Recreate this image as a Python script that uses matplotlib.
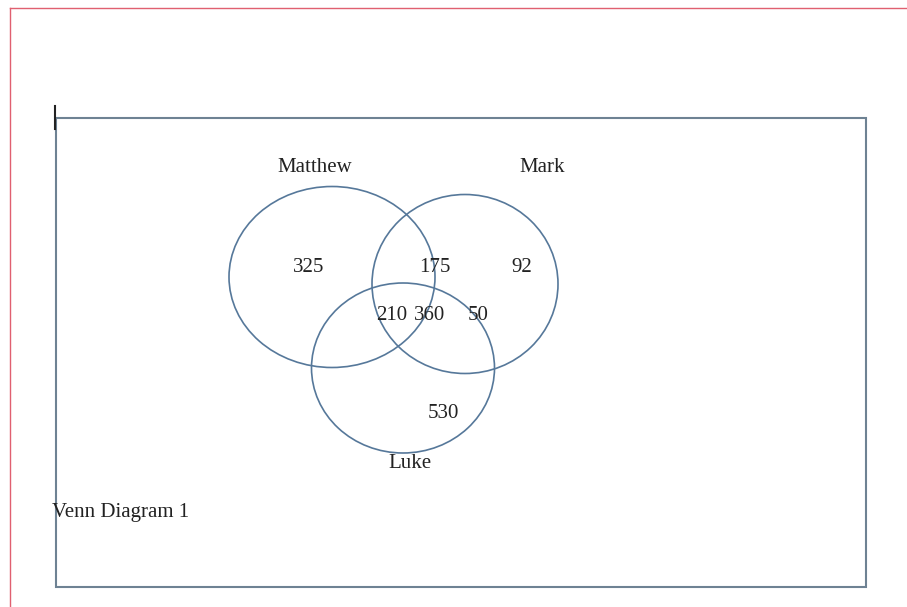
import matplotlib.pyplot as plt
from matplotlib.patches import Ellipse, Rectangle

# data
set_names = ['Matthew', 'Mark', 'Luke']
region_labels = ['Matthew only', 'Matthew & Mark', 'Mark only',
                 'Matthew & Luke', 'all three', 'Mark & Luke', 'Luke only']
region_counts = [325, 175, 92, 210, 360, 50, 530]
caption = 'Venn Diagram 1'

# layout (canvas pixels, y downwards)
circle_centers = [(332, 277), (465, 284), (403, 368)]
circle_sizes = [(206, 181), (186, 179), (183, 170)]
name_pos = [(315, 168), (542, 168), (410, 464)]
count_pos = [(309, 267), (435, 267), (522, 267),
             (392, 315), (430, 315), (478, 315), (443, 414)]

edge_col = '#56789a'
box_col = '#6e8293'
font = ['Liberation Serif', 'DejaVu Serif']
fs = 15

fig = plt.figure(figsize=(9.07, 6.07), dpi=100)
ax = fig.add_axes([0, 0, 1, 1])
ax.set_xlim(0, 907)
ax.set_ylim(607, 0)
ax.axis('off')

# page edge lines
ax.plot([10, 907], [8, 8], color='#e06070', lw=1.0)
ax.plot([10, 10], [8, 607], color='#e06070', lw=1.0)

# frame and text cursor
ax.add_patch(Rectangle((56, 118), 810, 469, fill=False, ec=box_col, lw=1.5))
ax.plot([55, 55], [106, 129], color='#222222', lw=1.5)

for (cx, cy), (w, h) in zip(circle_centers, circle_sizes):
    ax.add_patch(Ellipse((cx, cy), w, h, fill=False, ec=edge_col, lw=1.2))

for name, (x, y) in zip(set_names, name_pos):
    ax.text(x, y, name, ha='center', va='center', fontsize=fs, family=font, color='#222222')

for val, (x, y) in zip(region_counts, count_pos):
    ax.text(x, y, str(val), ha='center', va='center', fontsize=fs, family=font, color='#222222')

ax.text(52, 512, caption, ha='left', va='center', fontsize=fs, family=font, color='#222222')

fig.savefig('out.png', dpi=100, facecolor='white')
